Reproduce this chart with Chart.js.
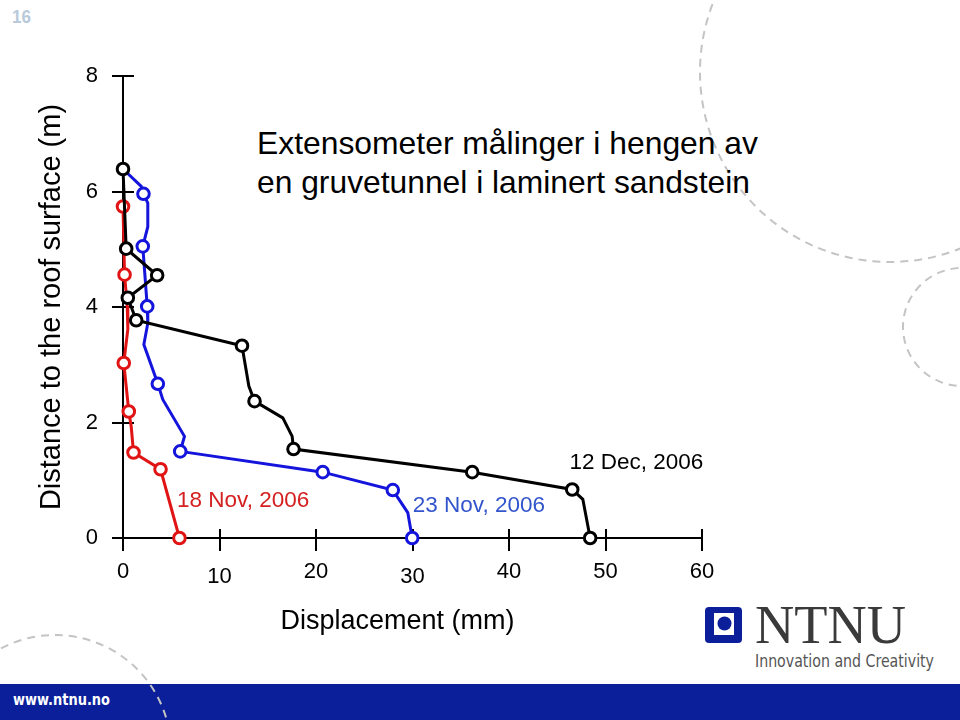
<!DOCTYPE html>
<html>
<head>
<meta charset="utf-8">
<script src="https://cdn.jsdelivr.net/npm/chart.js@4.4.1/dist/chart.umd.min.js"></script>
<style>
  html, body { margin: 0; padding: 0; background: #fff; }
  #wrap { position: relative; width: 960px; height: 720px; overflow: hidden; }
  #deco, #c { position: absolute; left: 0; top: 0; }
</style>
</head>
<body>
<div id="wrap">
<svg id="deco" width="960" height="720" xmlns="http://www.w3.org/2000/svg">
  <rect x="0" y="684" width="960" height="36" fill="#0b1f9b"/>
  <g fill="none" stroke="#c4c4c4" stroke-width="2" stroke-dasharray="8 6">
    <circle cx="890" cy="72" r="190"/>
    <circle cx="962" cy="327" r="59"/>
    <circle cx="55" cy="751" r="116"/>
  </g>
  <text x="12" y="23" font-family="Liberation Sans, Arial, sans-serif" font-weight="bold" font-size="18" fill="#b9cadb" textLength="19" lengthAdjust="spacingAndGlyphs">16</text>
  <text x="257" y="154" font-family="Liberation Sans, Arial, sans-serif" font-size="32" fill="#000" textLength="501" lengthAdjust="spacingAndGlyphs">Extensometer målinger i hengen av</text>
  <text x="257" y="193" font-family="Liberation Sans, Arial, sans-serif" font-size="32" fill="#000" textLength="493" lengthAdjust="spacingAndGlyphs">en gruvetunnel i laminert sandstein</text>
  <text x="13" y="705" font-family="DejaVu Sans, Verdana, sans-serif" font-weight="bold" font-size="15" fill="#fff" textLength="97" lengthAdjust="spacingAndGlyphs">www.ntnu.no</text>
  <rect x="705" y="607" width="37" height="36" rx="4" fill="#0b1f9b"/>
  <rect x="714" y="613" width="20" height="22" fill="#fff"/>
  <circle cx="724.5" cy="623.5" r="7" fill="#0b1f9b"/>
  <text x="755" y="643" font-family="Liberation Serif, Times New Roman, serif" font-size="54" fill="#3a3a3a" textLength="151" lengthAdjust="spacingAndGlyphs">NTNU</text>
  <text x="755" y="667" font-family="DejaVu Sans Condensed, Liberation Sans Narrow, sans-serif" font-size="17" fill="#555" textLength="179" lengthAdjust="spacingAndGlyphs">Innovation and Creativity</text>
</svg>
<canvas id="c" width="960" height="720"></canvas>
</div>
<script>
// ---------- data (mm displacement vs. distance to roof surface, m) ----------
// line vertices; *Measured = 1 where the picture has a circle marker
const seriesNames = ["12 Dec, 2006", "23 Nov, 2006", "18 Nov, 2006"];

const decX = [0.0, 0.33, 3.54, 0.5, 1.37, 12.33, 13.04, 13.63, 16.56, 17.53, 17.67, 36.19, 46.55, 47.65, 48.41];
const decY = [6.39, 5.01, 4.55, 4.16, 3.77, 3.33, 2.63, 2.37, 2.08, 1.76, 1.54, 1.14, 0.84, 0.67, 0.0];
const decMeasured = [1, 1, 1, 1, 1, 1, 0, 1, 0, 0, 1, 1, 1, 0, 1];

const nov23X = [0.0, 1.89, 2.12, 2.57, 2.57, 2.05, 2.51, 2.57, 2.16, 3.61, 4.12, 6.37, 5.93, 20.7, 27.96, 29.51, 29.97];
const nov23Y = [6.39, 6.09, 5.96, 5.8, 5.39, 5.05, 4.01, 3.72, 3.35, 2.67, 2.4, 1.76, 1.5, 1.14, 0.83, 0.44, 0.0];
const nov23Measured = [0, 0, 1, 0, 0, 1, 1, 0, 0, 1, 0, 0, 1, 1, 1, 0, 1];

const nov18X = [0.0, 0.16, 0.44, 0.5, 0.08, 0.6, 0.85, 1.09, 3.89, 5.85];
const nov18Y = [5.74, 4.56, 4.01, 3.61, 3.03, 2.19, 1.93, 1.48, 1.19, 0.0];
const nov18Measured = [1, 1, 0, 0, 1, 1, 0, 1, 1, 1];

const FONT = '"Liberation Sans", Arial, sans-serif';

function pts(xs, ys) {
  return xs.map((x, i) => ({ x: x, y: ys[i] }));
}

function series(label, xs, ys, measured, color) {
  return {
    label: label,
    data: pts(xs, ys),
    showLine: true,
    borderColor: color,
    borderWidth: 3,
    tension: 0,
    clip: false,
    pointRadius: c => (measured[c.dataIndex] ? 5.8 : 0),
    pointBorderWidth: 3,
    pointBorderColor: color,
    pointBackgroundColor: "#fff",
  };
}

// tick marks that cross the axis line (Chart.js only draws the outer half)
const crossTicks = {
  id: "crossTicks",
  beforeDatasetsDraw(chart) {
    const { ctx, chartArea, scales } = chart;
    ctx.save();
    ctx.strokeStyle = "#000";
    ctx.lineWidth = 2;
    ctx.beginPath();
    scales.x.ticks.forEach(t => {
      const px = Math.round(scales.x.getPixelForValue(t.value));
      ctx.moveTo(px, chartArea.bottom);
      ctx.lineTo(px, chartArea.bottom - 9);
    });
    scales.y.ticks.forEach(t => {
      const py = Math.round(scales.y.getPixelForValue(t.value));
      ctx.moveTo(chartArea.left, py);
      ctx.lineTo(chartArea.left + 11, py);
    });
    ctx.stroke();
    ctx.restore();
  },
};

// series names written next to the curves
const curveNotes = {
  id: "curveNotes",
  afterDatasetsDraw(chart, args, opts) {
    const { ctx, scales } = chart;
    ctx.save();
    ctx.font = "22.5px " + FONT;
    ctx.textAlign = "left";
    ctx.textBaseline = "middle";
    chart.data.datasets.forEach((ds, i) => {
      const a = opts.anchors[i];
      ctx.fillStyle = opts.colors[i];
      ctx.fillText(ds.label, scales.x.getPixelForValue(a.x), scales.y.getPixelForValue(a.y));
    });
    ctx.restore();
  },
};

new Chart(document.getElementById("c"), {
  type: "scatter",
  data: {
    datasets: [
      series(seriesNames[0], decX, decY, decMeasured, "#000"),
      series(seriesNames[1], nov23X, nov23Y, nov23Measured, "#1414dc"),
      series(seriesNames[2], nov18X, nov18Y, nov18Measured, "#e01414"),
    ],
  },
  options: {
    responsive: false,
    animation: false,
    devicePixelRatio: 1,
    events: [],
    layout: { padding: { left: 0, top: 76, right: 258, bottom: 0 } },
    plugins: {
      legend: { display: false },
      tooltip: { enabled: false },
      curveNotes: {
        anchors: [{ x: 46.27, y: 1.31 }, { x: 30.03, y: 0.55 }, { x: 5.6, y: 0.65 }],
        colors: ["#000", "#3355cc", "#d42020"],
      },
    },
    scales: {
      x: {
        type: "linear",
        min: 0,
        max: 60,
        afterFit: s => { s.height = 182; },
        border: { display: true, color: "#000", width: 2 },
        grid: { drawOnChartArea: false, drawTicks: true, tickLength: 13, color: "#000", lineWidth: 2 },
        ticks: {
          stepSize: 10,
          color: "#000",
          padding: 8,
          maxRotation: 0,
          autoSkip: false,
          font: c => ({ family: FONT, size: 22, lineHeight: c.index === 1 || c.index === 3 ? 1.64 : 1.2 }),
        },
        title: {
          display: true,
          text: "Displacement (mm)\u00a0\u00a0\u00a0\u00a0",
          color: "#000",
          font: { family: FONT, size: 27 },
          padding: { top: 0, bottom: 82 },
        },
      },
      y: {
        type: "linear",
        min: 0,
        max: 8,
        afterFit: s => { s.width = 123; },
        border: { display: true, color: "#000", width: 2 },
        grid: { drawOnChartArea: false, drawTicks: true, tickLength: 11, color: "#000", lineWidth: 2 },
        ticks: { stepSize: 2, color: "#000", padding: 14, font: { family: FONT, size: 22 } },
        title: {
          display: true,
          text: "Distance to the roof surface (m)",
          color: "#000",
          font: { family: FONT, size: 29 },
          padding: { top: 35, bottom: 0 },
        },
      },
    },
  },
  plugins: [crossTicks, curveNotes],
});
</script>
</body>
</html>
